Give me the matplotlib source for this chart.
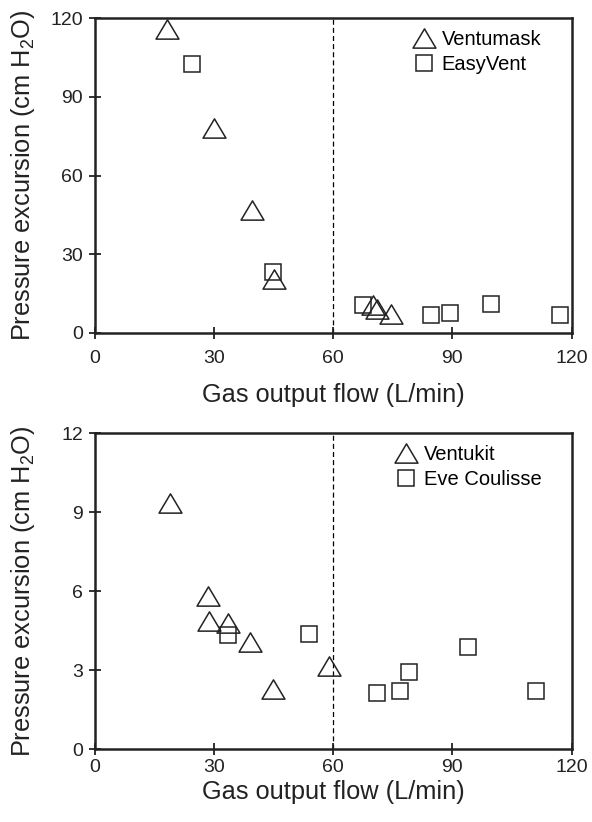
import matplotlib
matplotlib.use("Agg")
import matplotlib.pyplot as plt
from matplotlib.path import Path

plt.rcParams['font.family'] = ['Liberation Sans', 'DejaVu Sans']
plt.rcParams['mathtext.fontset'] = 'custom'
plt.rcParams['mathtext.rm'] = 'Liberation Sans'
plt.rcParams['mathtext.it'] = 'Liberation Sans:italic'

# Top panel data
ventumask_x = [18, 30, 39.5, 45, 70, 71, 74.5]
ventumask_y = [116, 78, 46.7, 20.7, 10.7, 9, 7.4]
easyvent_x = [24.3, 44.8, 67.6, 84.6, 89.4, 99.6, 117.2]
easyvent_y = [102.7, 23.1, 10.5, 6.9, 7.5, 10.9, 7.0]

# Bottom panel data
ventukit_x = [18.9, 28.5, 28.6, 33.6, 39.0, 44.8, 59.0]
ventukit_y = [9.34, 5.81, 4.85, 4.78, 4.06, 2.29, 3.17]
eve_x = [33.4, 53.8, 71.0, 76.9, 79.1, 94.0, 111.0]
eve_y = [4.32, 4.39, 2.12, 2.20, 2.92, 3.86, 2.19]

x_ticks = [0, 30, 60, 90, 120]
top_yticks = [0, 30, 60, 90, 120]
bot_yticks = [0, 3, 6, 9, 12]

tri = Path([(-1, -0.84), (1, -0.84), (0, 0.84), (-1, -0.84)],
           [Path.MOVETO, Path.LINETO, Path.LINETO, Path.CLOSEPOLY])

fig = plt.figure(figsize=(5.92, 8.22), dpi=100)
ax1 = fig.add_axes([0.1605, 0.5949, 0.805, 0.383])
ax2 = fig.add_axes([0.1605, 0.0888, 0.805, 0.384])

panels = [
    (ax1, ventumask_x, ventumask_y, easyvent_x, easyvent_y, 'Ventumask', 'EasyVent', top_yticks, 7.6, 11.5),
    (ax2, ventukit_x, ventukit_y, eve_x, eve_y, 'Ventukit', 'Eve Coulisse', bot_yticks, 2.6, 3.0),
]

for ax, tx, ty, sx, sy, tl, sl, yt, xpad, xlpad in panels:
    ax.axvline(60, color='black', lw=0.9, ls=(0, (4, 2.5)), zorder=1)
    ax.plot(tx, ty, ls='none', marker=tri, ms=16.5, mfc='none', mec='#222222',
            mew=1.1, label=tl, zorder=3)
    ax.plot(sx, sy, ls='none', marker='s', ms=11.3, mfc='none', mec='#222222',
            mew=1.1, label=sl, zorder=3)
    ax.set_xlim(0, 120)
    ax.set_ylim(yt[0], yt[-1])
    ax.set_xticks(x_ticks)
    ax.set_yticks(yt)
    ax.tick_params(direction='inout', length=9, width=1.3, labelsize=14,
                   colors='#222222', pad=4)
    ax.tick_params(axis='x', pad=xpad)
    for s in ax.spines.values():
        s.set_linewidth(1.8)
        s.set_color('#222222')
    ax.set_xlabel('Gas output flow (L/min)', fontsize=18.3, color='#222222', labelpad=xlpad)
    ax.set_ylabel('Pressure excursion (cm H$_2$O)', fontsize=18.3, color='#222222')
    ax.yaxis.set_label_coords(-0.121, 0.5)
    ax.legend(loc='upper right', frameon=False, fontsize=14.5, handletextpad=0.3,
              labelspacing=0.3, borderaxespad=0.2, handlelength=1.2,
              bbox_to_anchor=(0.962, 1.0))

fig.savefig('out.png', dpi=100)
